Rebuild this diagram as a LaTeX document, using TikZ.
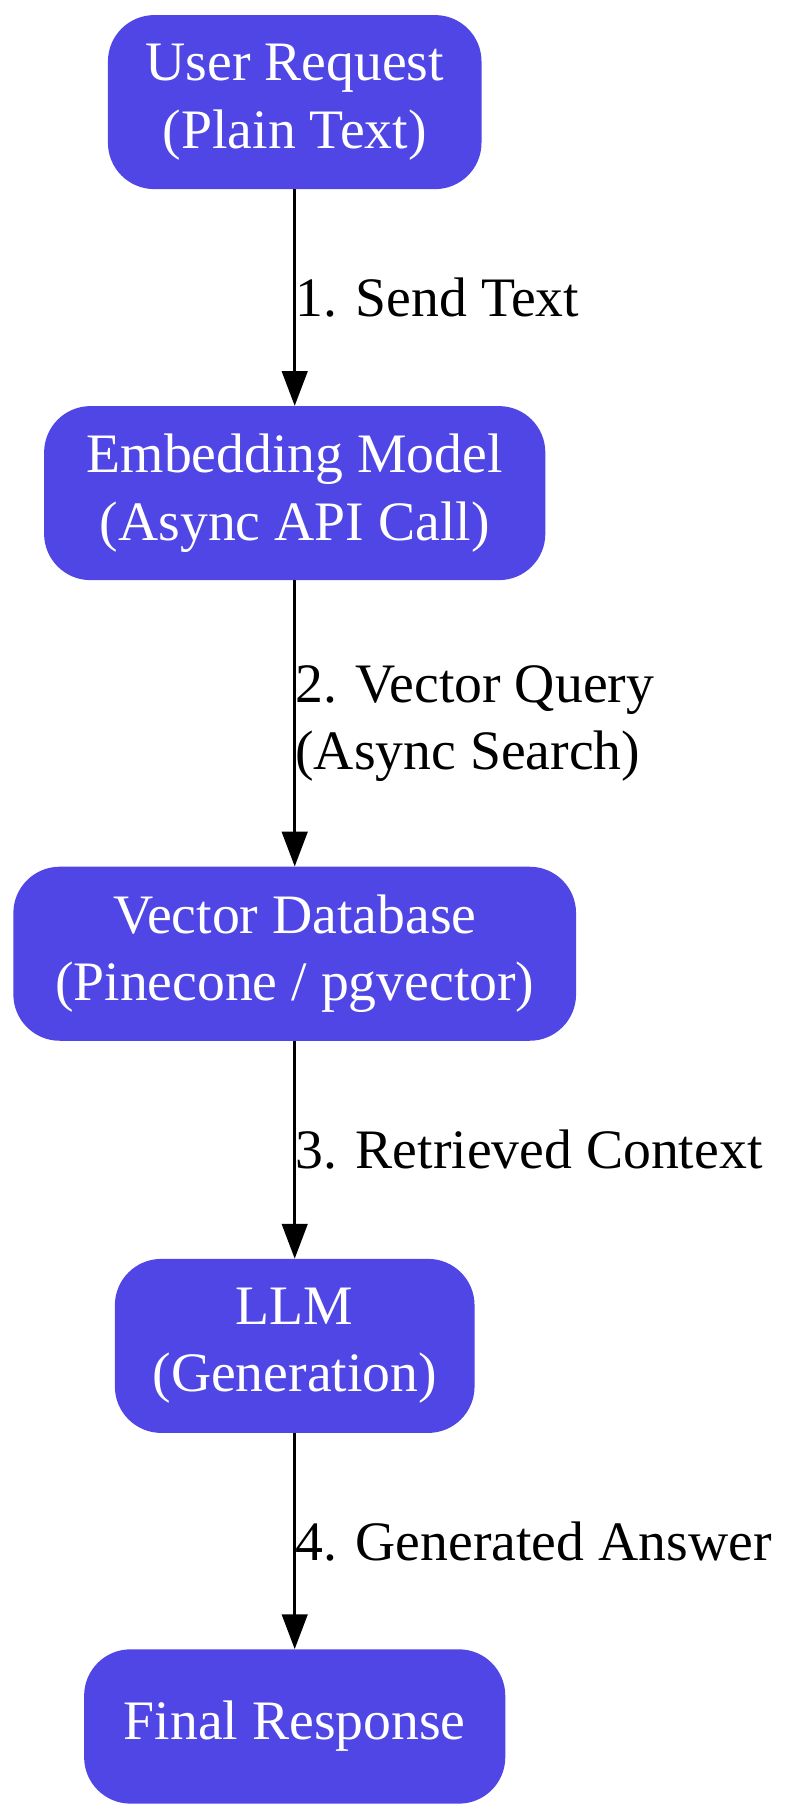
\documentclass[tikz,border=0pt]{standalone}
\usepackage{fontspec}
\setmainfont{Liberation Serif}
\usetikzlibrary{arrows.meta,positioning}
\definecolor{stepblue}{HTML}{4F46E5}
\begin{document}
\begin{tikzpicture}[x=1pt,y=-1pt,
  stage/.style={fill=stepblue, text=white, rounded corners=40pt, minimum height=150pt,
    align=center, font=\fontsize{48}{58}\selectfont, inner xsep=16pt},
  flow/.style={-{Triangle[length=30pt,width=22pt]}, line width=2.5pt},
  lbl/.style={font=\fontsize{48}{58}\selectfont, align=left, anchor=west}]
  \useasboundingbox (0,0) rectangle (680,1560);
  % boxes
  \node[stage, minimum width=322pt] (user) at (254,88) {User Request\\(Plain Text)};
  \node[stage, minimum width=432pt] (embed) at (254,425) {Embedding Model\\(Async API Call)};
  \node[stage, minimum width=485pt] (vdb) at (254,822) {Vector Database\\(Pinecone / pgvector)};
  \node[stage, minimum width=310pt] (llm) at (254,1160) {LLM\\(Generation)};
  \node[stage, minimum width=363pt, minimum height=133pt] (final) at (254,1488) {Final Response};
  % connectors
  \draw[flow] (user) -- node[lbl, xshift=-4pt] {1. Send Text} (embed);
  \draw[flow] (embed) -- node[lbl, xshift=-4pt] {2. Vector Query\\(Async Search)} (vdb);
  \draw[flow] (vdb) -- node[lbl, xshift=-4pt] {3. Retrieved Context} (llm);
  \draw[flow] (llm) -- node[lbl, xshift=-4pt] {4. Generated Answer} (final);
\end{tikzpicture}
\end{document}
